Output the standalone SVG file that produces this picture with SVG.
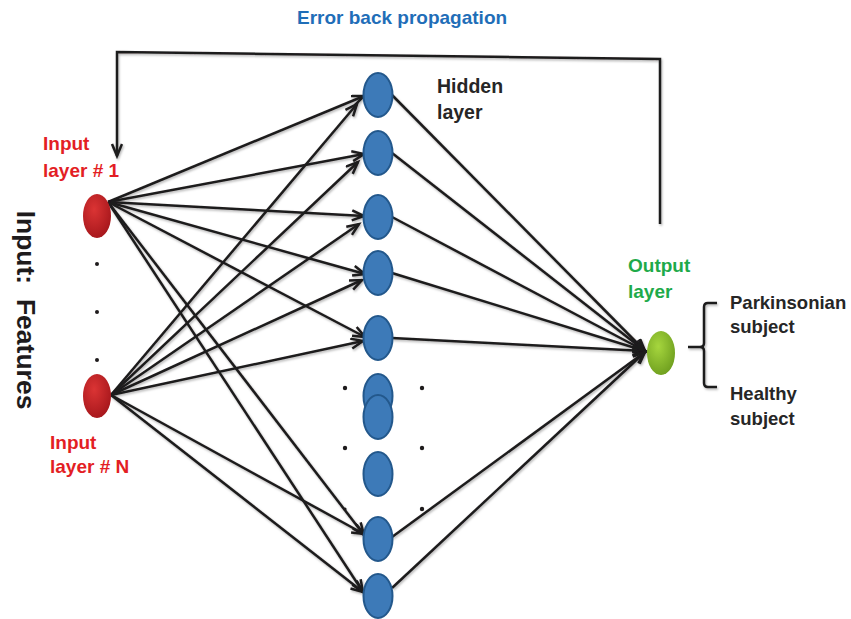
<svg xmlns="http://www.w3.org/2000/svg" width="851" height="619" viewBox="0 0 851 619">
<style>
.t{font-family:"Liberation Sans",Arial,sans-serif;font-weight:bold}
.red{fill:#E31E24;font-size:19px}
.dark{fill:#262626;font-size:18.5px}
.hl{font-size:19.5px}
.green{fill:#1EAA4A;font-size:19px}
.blue{fill:#1F6EB8;font-size:19px}
.hid{fill:#3D7AB8;stroke:#23588C;stroke-width:2}
.ln{stroke:#1E1B1C;stroke-width:2.5;fill:none}
.dot{fill:#1E1B1C}
</style>
<defs>
<marker id="ah" markerUnits="userSpaceOnUse" markerWidth="16" markerHeight="14" refX="13" refY="6" orient="auto">
<path d="M1,1 L13,6 L1,11" fill="none" stroke="#1E1B1C" stroke-width="2.5"/>
</marker>
<radialGradient id="rg" cx="0.4" cy="0.35" r="0.7">
<stop offset="0" stop-color="#DB3434"/><stop offset="1" stop-color="#A5161B"/>
</radialGradient>
<radialGradient id="gg" cx="0.4" cy="0.35" r="0.7">
<stop offset="0" stop-color="#A6D63E"/><stop offset="1" stop-color="#6E9E1E"/>
</radialGradient>
<filter id="sh" x="-5%" y="-5%" width="110%" height="110%">
<feDropShadow dx="1" dy="1.5" stdDeviation="1" flood-color="#000" flood-opacity="0.3"/>
</filter>
</defs>
<rect width="851" height="619" fill="#fff"/>

<g id="connectors" filter="url(#sh)">
<polyline class="ln" points="660,224 660,59 117,52 117,156" marker-end="url(#ah)"/>
<g marker-end="url(#ah)">
<line class="ln" x1="108" y1="202" x2="364" y2="96"/>
<line class="ln" x1="108" y1="202" x2="364" y2="154"/>
<line class="ln" x1="108" y1="202" x2="364" y2="216"/>
<line class="ln" x1="108" y1="202" x2="365" y2="274"/>
<line class="ln" x1="108" y1="202" x2="365" y2="337"/>
<line class="ln" x1="108" y1="202" x2="364" y2="535"/>
<line class="ln" x1="108" y1="202" x2="363" y2="592"/>
<line class="ln" x1="111" y1="395" x2="357" y2="104"/>
<line class="ln" x1="111" y1="395" x2="358" y2="162"/>
<line class="ln" x1="111" y1="395" x2="359" y2="224"/>
<line class="ln" x1="111" y1="395" x2="362" y2="280"/>
<line class="ln" x1="111" y1="395" x2="363" y2="341"/>
<line class="ln" x1="111" y1="395" x2="364" y2="534"/>
<line class="ln" x1="111" y1="395" x2="363" y2="592"/>
<line class="ln" x1="392" y1="95" x2="645" y2="351"/>
<line class="ln" x1="392" y1="153" x2="645" y2="351"/>
<line class="ln" x1="392" y1="217" x2="645" y2="351"/>
<line class="ln" x1="392" y1="273" x2="645" y2="351"/>
<line class="ln" x1="392" y1="338" x2="645" y2="351"/>
<line class="ln" x1="392" y1="537" x2="645" y2="352"/>
<line class="ln" x1="392" y1="588" x2="645" y2="352"/>
</g>
<path class="ln" d="M717,303 L708,303 Q704,303 704,307 L704,343 Q704,347 700,347 L688,347 M700,347 Q704,347 704,351 L704,383 Q704,387 708,387 L717,387"/>
</g>

<g id="input1"><ellipse cx="97" cy="216" rx="14" ry="22" fill="url(#rg)"/></g>
<g id="inputN"><ellipse cx="97" cy="396" rx="14" ry="22" fill="url(#rg)"/></g>
<g id="inputDots" class="dot">
<circle cx="97" cy="264" r="2"/><circle cx="97" cy="312" r="2"/><circle cx="97" cy="360" r="2"/>
</g>

<g id="hidden1"><ellipse class="hid" cx="378" cy="95" rx="14.5" ry="22"/></g>
<g id="hidden2"><ellipse class="hid" cx="378" cy="153" rx="14.5" ry="22"/></g>
<g id="hidden3"><ellipse class="hid" cx="378" cy="217" rx="14.5" ry="22"/></g>
<g id="hidden4"><ellipse class="hid" cx="378" cy="273" rx="14.5" ry="22"/></g>
<g id="hidden5"><ellipse class="hid" cx="378" cy="338" rx="14.5" ry="22"/></g>
<g id="hidden6"><ellipse class="hid" cx="378" cy="396" rx="14.5" ry="22"/></g>
<g id="hidden7"><ellipse class="hid" cx="378" cy="417" rx="14.5" ry="22"/></g>
<g id="hidden8"><ellipse class="hid" cx="378" cy="474" rx="14.5" ry="22"/></g>
<g id="hidden9"><ellipse class="hid" cx="378" cy="539" rx="14.5" ry="22"/></g>
<g id="hidden10"><ellipse class="hid" cx="378" cy="596" rx="14.5" ry="22"/></g>
<g id="hiddenDots" class="dot">
<circle cx="345" cy="388" r="2.2"/><circle cx="422" cy="388" r="2.2"/>
<circle cx="345" cy="448" r="2.2"/><circle cx="422" cy="448" r="2.2"/>
<circle cx="345" cy="509" r="1.6"/><circle cx="422" cy="509" r="2.2"/>
</g>

<g id="output"><ellipse cx="661" cy="353" rx="14" ry="22" fill="url(#gg)"/></g>

<g id="labels" class="t">
<text class="blue" x="297" y="24">Error back propagation</text>
<text class="dark hl" x="437" y="93">Hidden</text>
<text class="dark hl" x="437" y="119">layer</text>
<text class="red" x="43" y="150">Input</text>
<text class="red" x="43" y="177">layer # 1</text>
<text class="red" x="50" y="449">Input</text>
<text class="red" x="50" y="473">layer # N</text>
<text class="green" x="628" y="272">Output</text>
<text class="green" x="628" y="298">layer</text>
<text class="dark" x="730" y="309">Parkinsonian</text>
<text class="dark" x="730" y="333">subject</text>
<text class="dark" x="730" y="400">Healthy</text>
<text class="dark" x="730" y="425">subject</text>
<text fill="#1E1B1C" font-size="26.5" xml:space="preserve" text-anchor="middle" transform="translate(17,310) rotate(90)">Input:  Features</text>
</g>
</svg>
